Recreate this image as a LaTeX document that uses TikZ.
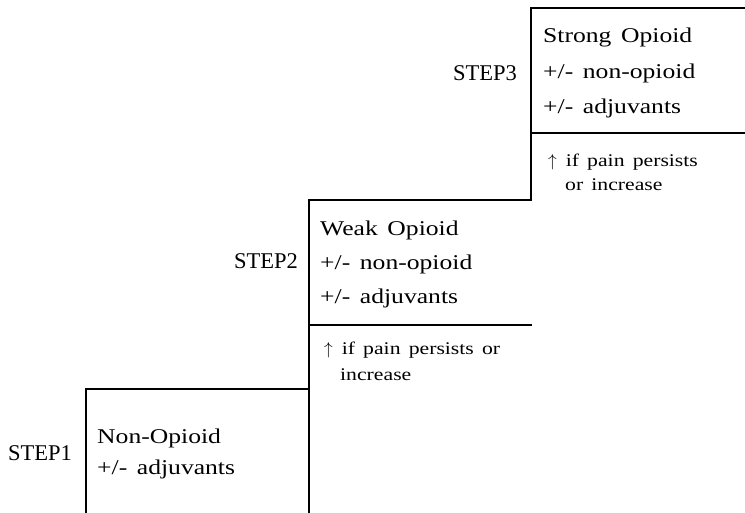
\documentclass[tikz,border=0pt]{standalone}
\usepackage{fontspec}
\setmainfont{Liberation Serif}
\newfontfamily\boxfont{Liberation Serif}[FakeStretch=1.22,WordSpace=1.5]
\begin{document}
\begin{tikzpicture}[x=1pt,y=-1pt,
  stair/.style={line width=1.6pt,line cap=rect},
  mtext/.style={anchor=base west,inner sep=0pt,font=\boxfont\fontsize{21}{24}\selectfont},
  steplabel/.style={anchor=base east,inner sep=0pt,font=\fontsize{22.5}{26}\selectfont},
  stext/.style={anchor=base west,inner sep=0pt,font=\boxfont\fontsize{17.8}{21}\selectfont}]
\useasboundingbox (0,0) rectangle (745,512);
% staircase outline
\draw[stair] (86,512) -- (86,389) -- (309,389) -- (309,200) -- (531,200) -- (531,8) -- (745,8);
\draw[stair] (309,389) -- (309,512);
\draw[stair] (531,133) -- (745,133);
\draw[stair] (309,325) -- (531,325);
% step 3
\node[steplabel] (s3) at (517,80) {STEP3};
\node[mtext] (b3a) at (543,42) {Strong Opioid};
\node[mtext] (b3b) at (543,78) {+/- non-opioid};
\node[mtext] (b3c) at (543,113) {+/- adjuvants};
\node[stext] (n3a) at (548,166) {$\uparrow$\hspace{9pt}if pain persists};
\node[stext] (n3b) at (565,190) {or increase};
% step 2
\node[steplabel] (s2) at (298,268) {STEP2};
\node[mtext] (b2a) at (320,235) {Weak Opioid};
\node[mtext] (b2b) at (320,269) {+/- non-opioid};
\node[mtext] (b2c) at (320,303) {+/- adjuvants};
\node[stext] (n2a) at (324,354) {$\uparrow$\hspace{9pt}if pain persists or};
\node[stext] (n2b) at (340,380) {increase};
% step 1
\node[steplabel] (s1) at (72,460) {STEP1};
\node[mtext] (b1a) at (97,443) {Non-Opioid};
\node[mtext] (b1b) at (97,474) {+/- adjuvants};
\end{tikzpicture}
\end{document}
